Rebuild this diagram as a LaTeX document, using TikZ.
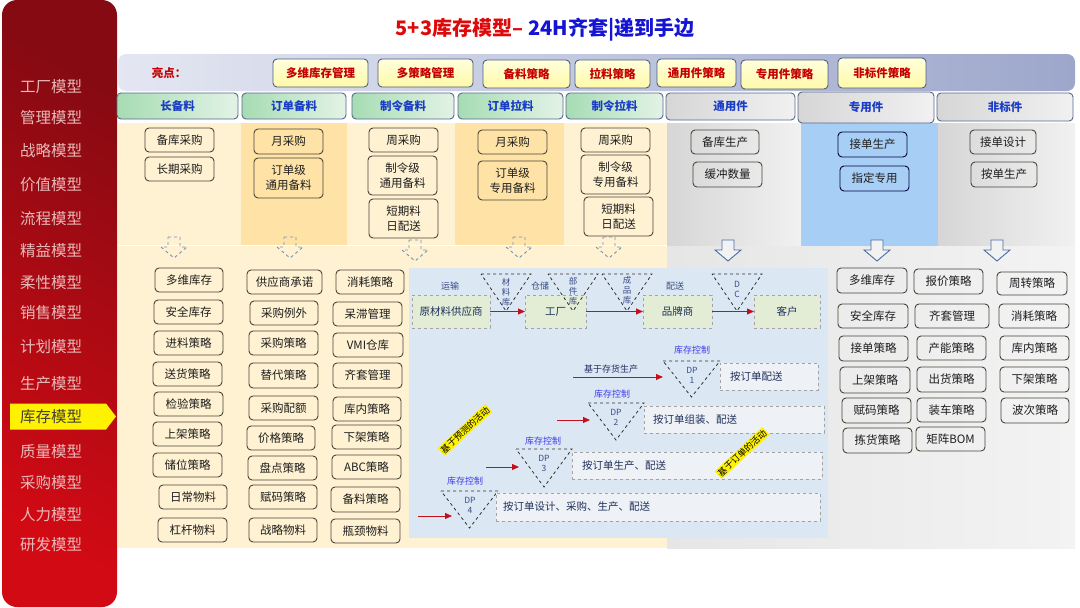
\documentclass[tikz,border=0pt]{standalone}
\usepackage{fontspec}
\setmainfont{Noto Sans CJK SC}
\usetikzlibrary{arrows.meta}
\definecolor{sbText}{HTML}{E8B9B9}
\definecolor{redA}{HTML}{D20A14}
\definecolor{redB}{HTML}{860A12}
\definecolor{tRed}{HTML}{DC0A0A}
\definecolor{tBlue}{HTML}{1414D2}
\definecolor{bandL}{HTML}{E4E7F2}
\definecolor{bandR}{HTML}{9DA7CB}
\definecolor{hlFillB}{HTML}{FFF9A8}
\definecolor{hlFillT}{HTML}{FFFFDC}
\definecolor{hlDraw}{HTML}{4F5F80}
\definecolor{hlText}{HTML}{C40000}
\definecolor{hdDraw}{HTML}{56688C}
\definecolor{hdText}{HTML}{1B3DC4}
\definecolor{grL}{HTML}{A6DCB3}
\definecolor{grR}{HTML}{E3F3E6}
\definecolor{gyL}{HTML}{D6D6D6}
\definecolor{gyR}{HTML}{F1F1F1}
\definecolor{cream}{HTML}{FFF2D2}
\definecolor{creamD}{HTML}{FFE3A6}
\definecolor{skyCol}{HTML}{A7CEF5}
\definecolor{greyBgL}{HTML}{E6E6E6}
\definecolor{greyBgR}{HTML}{F3F3F3}
\definecolor{flowBg}{HTML}{DCE7F4}
\definecolor{boxDraw}{HTML}{4A4438}
\definecolor{boxText}{HTML}{1E1E1E}
\definecolor{arrDash}{HTML}{7391B8}
\definecolor{arrSolid}{HTML}{4A6CA6}
\definecolor{flowBox}{HTML}{E3EDD6}
\definecolor{flowDraw}{HTML}{A3A3A3}
\definecolor{flowText}{HTML}{1F2F5A}
\definecolor{flowLbl}{HTML}{3A4C86}
\definecolor{ctrlBlue}{HTML}{3C3CE8}
\definecolor{arrRed}{HTML}{C4101C}
\definecolor{dpBox}{HTML}{EEF2F7}
\definecolor{triDraw}{HTML}{303030}
\newcommand\Bx[7][]{\node[box,#1,minimum width={(#5-#3)*1pt},minimum height={(#6-#4)*1pt}] (#2) at ({(#3+#5)/2},{(#4+#6)/2}) {#7};}
\newcommand\HArrow[3]{\draw[#1] (#2-6,#3) -- (#2+6,#3) -- (#2+6,#3+10) -- (#2+13,#3+10) -- (#2,#3+21) -- (#2-13,#3+10) -- (#2-6,#3+10) -- cycle;}
\newcommand\Tri[4]{\draw[tristyle] (#1,#3) -- (#2,#3) -- ({(#1+#2)/2},#4) -- cycle;}
\begin{document}
\begin{tikzpicture}[x=1pt,y=-1pt,
  box/.style={draw=boxDraw,line width=0.9pt,rounded corners=4pt,inner sep=0pt,outer sep=0pt,align=center,text=boxText,font=\fontsize{11.5}{15}\selectfont},
  hl/.style={box,draw=hlDraw,top color=hlFillT,bottom color=hlFillB,text=hlText,font=\bfseries\fontsize{11.5}{14}\selectfont},
  hdg/.style={box,draw=hdDraw,left color=grL,right color=grR,text=hdText,font=\bfseries\fontsize{11.5}{14}\selectfont},
  hdy/.style={box,draw=hdDraw,left color=gyL,right color=gyR,text=hdText,font=\bfseries\fontsize{11.5}{14}\selectfont},
  sblab/.style={text=sbText,font=\fontsize{15.5}{18}\selectfont},
  dasharr/.style={draw=arrDash,line width=0.9pt,dashed},
  solidarr/.style={draw=arrSolid,line width=0.9pt,fill=white!90!gray},
  fbox/.style={box,draw=flowDraw,dashed,line width=0.8pt,rounded corners=0pt,fill=flowBox,text=flowText,font=\fontsize{10.5}{13}\selectfont},
  dpbox/.style={box,draw=flowDraw,dashed,line width=0.8pt,rounded corners=0pt,fill=dpBox},
  dptext/.style={text=flowText,font=\fontsize{10.5}{13}\selectfont,anchor=west,inner sep=0pt},
  flbl/.style={text=flowLbl,font=\fontsize{9}{11}\selectfont},
  tristyle/.style={draw=triDraw,dashed,line width=0.8pt},
  tritext/.style={text=flowLbl,font=\fontsize{8.5}{10}\selectfont,align=center,inner sep=0pt},
  ctrl/.style={text=ctrlBlue,font=\fontsize{9}{11}\selectfont},
  redarr/.style={draw=arrRed,line width=1pt,-{Triangle[length=7pt,width=6pt]}},
  ylab/.style={fill=yellow,text=black,font=\fontsize{9}{10}\selectfont,inner sep=1pt,rotate=43}
]
\useasboundingbox (0,0) rectangle (1080,608);
\fill[white] (0,0) rectangle (1080,608);
% ---------- sidebar ----------
\node[rectangle,rounded corners=15pt,top color=redB,bottom color=redA,shading angle=-30,minimum width=115pt,minimum height=607pt,inner sep=0pt] (side) at (59.5,303.5) {};
\fill[yellow] (10,403.5) -- (106,403.5) -- (116,416.5) -- (106,429.5) -- (10,429.5) -- cycle;
\node[sblab] (m1) at (51,87) {工厂模型};
\node[sblab] (m2) at (51,118) {管理模型};
\node[sblab] (m3) at (51,151) {战略模型};
\node[sblab] (m4) at (51,185) {价值模型};
\node[sblab] (m5) at (51,219) {流程模型};
\node[sblab] (m6) at (51,251) {精益模型};
\node[sblab] (m7) at (51,283) {柔性模型};
\node[sblab] (m8) at (51,313) {销售模型};
\node[sblab] (m9) at (51,347) {计划模型};
\node[sblab] (m10) at (51,384) {生产模型};
\node[sblab,text=black!85!yellow] (m11) at (51,417) {库存模型};
\node[sblab] (m12) at (51,452) {质量模型};
\node[sblab] (m13) at (51,483) {采购模型};
\node[sblab] (m14) at (51,515) {人力模型};
\node[sblab] (m15) at (51,545) {研发模型};
% ---------- title ----------
\node[font=\bfseries\fontsize{20}{24}\selectfont] (title) at (545,30) {\textcolor{tRed}{5+3库存模型–}\hspace{5pt}\textcolor{tBlue}{24H齐套|递到手边}};
% ---------- band ----------
\node[rectangle,rounded corners=8pt,left color=bandL,right color=bandR,minimum width=957pt,minimum height=37pt,inner sep=0pt] (band) at (596.5,72.5) {};
\node[text=hlText,font=\bfseries\fontsize{11.5}{14}\selectfont] (ld) at (169,73) {亮点：};
\Bx[hl]{h1}{273}{59}{368}{87}{多维库存管理}
\Bx[hl]{h2}{378}{59}{473}{87}{多策略管理}
\Bx[hl]{h3}{483}{60}{570}{88}{备料策略}
\Bx[hl]{h4}{575}{60}{650}{88}{拉料策略}
\Bx[hl]{h5}{657}{59}{736}{87}{通用件策略}
\Bx[hl]{h6}{741}{60}{828}{89}{专用件策略}
\Bx[hl]{h7}{838}{58}{926}{88}{非标件策略}
% ---------- column backgrounds ----------
\fill[cream] (118,123) rectangle (667,548);
\fill[creamD] (241,123) rectangle (347,245);
\fill[creamD] (455,123) rectangle (564,245);
\shade[left color=gyL,right color=gyR] (667,123) rectangle (801,246);
\fill[skyCol] (801,123) rectangle (938,246);
\shade[left color=gyL,right color=gyR] (938,123) rectangle (1075,246);
\shade[left color=greyBgL,right color=greyBgR] (667,246) rectangle (1075,548);
\draw[white,line width=0.8pt] (118,245.5) -- (667,245.5);
% ---------- header row ----------
\Bx[hdg]{c1}{117}{93}{238}{119}{长备料}
\Bx[hdg]{c2}{242}{93}{346}{119}{订单备料}
\Bx[hdg]{c3}{352}{93}{454}{119}{制令备料}
\Bx[hdg]{c4}{458}{93}{563}{119}{订单拉料}
\Bx[hdg]{c5}{566}{93}{663}{119}{制令拉料}
\Bx[hdy]{c6}{666}{93}{795}{120}{通用件}
\Bx[hdy]{c7}{798}{92}{934}{123}{专用件}
\Bx[hdy]{c8}{937}{93}{1073}{121}{非标件}
% ---------- upper boxes ----------
\Bx{u11}{145}{128}{214}{152}{备库采购}
\Bx{u12}{145}{157}{214}{181}{长期采购}
\Bx{u21}{254}{129}{323}{154}{月采购}
\Bx{u22}{254}{158}{323}{198}{订单级\\通用备料}
\Bx{u31}{369}{128}{438}{152}{周采购}
\Bx{u32}{368}{156}{437}{195}{制令级\\通用备料}
\Bx{u33}{369}{199}{438}{238}{短期料\\日配送}
\Bx{u41}{478}{130}{547}{154}{月采购}
\Bx{u42}{478}{161}{547}{200}{订单级\\专用备料}
\Bx{u51}{581}{128}{650}{152}{周采购}
\Bx{u52}{581}{155}{650}{194}{制令级\\专用备料}
\Bx{u53}{584}{197}{653}{236}{短期料\\日配送}
\Bx{u61}{691}{130}{759}{154}{备库生产}
\Bx{u62}{693}{162}{762}{187}{缓冲数量}
\Bx[draw=black!75!blue]{u71}{838}{132}{907}{157}{接单生产}
\Bx[draw=black!75!blue]{u72}{840}{166}{909}{191}{指定专用}
\Bx{u81}{970}{130}{1036}{154}{接单设计}
\Bx{u82}{971}{162}{1037}{187}{按单生产}
% ---------- hollow arrows ----------
\HArrow{dasharr}{174}{237}
\HArrow{dasharr}{290}{237}
\HArrow{dasharr}{415}{240}
\HArrow{dasharr}{519}{237}
\HArrow{dasharr}{609}{237}
\HArrow{solidarr}{728}{240}
\HArrow{solidarr}{877}{240}
\HArrow{solidarr}{997}{240}
% ---------- lower-left grid ----------
\Bx{a1}{155}{268}{223}{292}{多维库存}
\Bx{a2}{154}{300}{223}{324}{安全库存}
\Bx{a3}{154}{331}{223}{355}{进料策略}
\Bx{a4}{153}{362}{222}{386}{送货策略}
\Bx{a5}{154}{392}{223}{416}{检验策略}
\Bx{a6}{153}{422}{222}{446}{上架策略}
\Bx{a7}{153}{453}{222}{477}{储位策略}
\Bx{a8}{159}{485}{227}{509}{日常物料}
\Bx{a9}{158}{518}{227}{542}{杠杆物料}
\Bx{b1}{247}{270}{322}{294}{供应商承诺}
\Bx{b2}{250}{301}{318}{325}{采购例外}
\Bx{b3}{249}{331}{318}{355}{采购策略}
\Bx{b4}{249}{363}{318}{388}{替代策略}
\Bx{b5}{249}{396}{318}{420}{采购配额}
\Bx{b6}{247}{426}{315}{450}{价格策略}
\Bx{b7}{248}{456}{317}{480}{盘点策略}
\Bx{b8}{249}{485}{317}{509}{赋码策略}
\Bx{b9}{249}{518}{317}{542}{战略物料}
\Bx{e1}{336}{270}{404}{294}{消耗策略}
\Bx{e2}{333}{302}{402}{326}{呆滞管理}
\Bx{e3}{333}{333}{403}{357}{VMI仓库}
\Bx{e4}{333}{363}{402}{388}{齐套管理}
\Bx{e5}{333}{397}{401}{421}{库内策略}
\Bx{e6}{332}{425}{401}{449}{下架策略}
\Bx{e7}{332}{455}{401}{479}{ABC策略}
\Bx{e8}{331}{487}{400}{512}{备料策略}
\Bx{e9}{331}{519}{400}{543}{瓶颈物料}
% ---------- right grid ----------
\Bx{r1}{837}{268}{907}{293}{多维库存}
\Bx{r2}{838}{304}{908}{328}{安全库存}
\Bx{r3}{839}{336}{908}{361}{接单策略}
\Bx{r4}{840}{367}{910}{393}{上架策略}
\Bx{r5}{842}{398}{911}{423}{赋码策略}
\Bx{r6}{843}{428}{912}{453}{拣货策略}
\Bx{s1}{914}{269}{983}{294}{报价策略}
\Bx{s2}{915}{304}{989}{328}{齐套管理}
\Bx{s3}{917}{336}{986}{360}{产能策略}
\Bx{s4}{917}{367}{986}{392}{出货策略}
\Bx{s5}{917}{398}{986}{422}{装车策略}
\Bx{s6}{916}{427}{985}{451}{矩阵BOM}
\Bx{t1}{997}{272}{1067}{295}{周转策略}
\Bx{t2}{999}{304}{1069}{328}{消耗策略}
\Bx{t3}{1000}{336}{1069}{360}{库内策略}
\Bx{t4}{1000}{367}{1069}{392}{下架策略}
\Bx{t5}{1001}{398}{1069}{423}{波次策略}
% ---------- flow diagram ----------
\fill[flowBg] (409,268) rectangle (828,538);
\Bx[fbox]{sup}{412}{295}{490}{328}{原材料供应商}
\Bx[fbox]{fac}{525}{295}{586}{328}{工厂}
\Bx[fbox]{brd}{643}{295}{712}{328}{品牌商}
\Bx[fbox]{cus}{754}{295}{820}{328}{客户}
\draw[redarr] (sup) -- (fac);
\draw[redarr] (fac) -- (brd);
\draw[redarr] (brd) -- (cus);
\node[flbl] (l1) at (450,286) {运输};
\node[flbl] (l2) at (540,286) {仓储};
\node[flbl] (l3) at (675,286) {配送};
\Tri{481}{531}{274}{311}
\Tri{548}{598}{274}{311}
\Tri{602}{652}{274}{311}
\Tri{712}{762}{274}{311}
\node[tritext] (k1) at (506,292) {材\\料\\库};
\node[tritext] (k2) at (573,291) {部\\件\\库};
\node[tritext] (k3) at (627,290) {成\\品\\库};
\node[tritext] (k4) at (737,289) {D\\C};
% DP levels
\Tri{663}{720}{361}{397}
\Tri{588}{644}{403}{440}
\Tri{516}{572}{449}{487}
\Tri{441}{498}{491}{528}
\node[tritext] (d1) at (692,375) {DP\\1};
\node[tritext] (d2) at (616,417) {DP\\2};
\node[tritext] (d3) at (544,463) {DP\\3};
\node[tritext] (d4) at (470,505) {DP\\4};
\node[ctrl] (q1) at (692,350) {库存控制};
\node[ctrl] (q2) at (612,394) {库存控制};
\node[ctrl] (q3) at (543,441) {库存控制};
\node[ctrl] (q4) at (465,481) {库存控制};
\Bx[dpbox]{p1}{720}{363}{818}{390}{}
\Bx[dpbox]{p2}{644}{406}{824}{433}{}
\Bx[dpbox]{p3}{572}{452}{822}{479}{}
\Bx[dpbox]{p4}{496}{493}{820}{521}{}
\node[dptext] (pt1) at ([xshift=10pt]p1.west) {按订单配送};
\node[dptext] (pt2) at ([xshift=9pt]p2.west) {按订单组装、配送};
\node[dptext] (pt3) at ([xshift=10pt]p3.west) {按订单生产、配送};
\node[dptext] (pt4) at ([xshift=7pt]p4.west) {按订单设计、采购、生产、配送};
\node[text=flowText,font=\fontsize{9}{11}\selectfont] (bs) at (611,369) {基于存货生产};
\coordinate (a1s) at (573,377); \coordinate (a1e) at (663,377);
\coordinate (a2s) at (557,420); \coordinate (a2e) at (590,420);
\coordinate (a3s) at (486,467); \coordinate (a3e) at (519,467);
\coordinate (a4s) at (418,516); \coordinate (a4e) at (452,516);
\draw[redarr] (a1s) -- (a1e);
\draw[redarr] (a2s) -- (a2e);
\draw[redarr] (a3s) -- (a3e);
\draw[redarr] (a4s) -- (a4e);
\node[ylab] (y1) at (465,430) {基于预测的活动};
\node[ylab] (y2) at (742,453) {基于订单的活动};
\end{tikzpicture}
\end{document}
